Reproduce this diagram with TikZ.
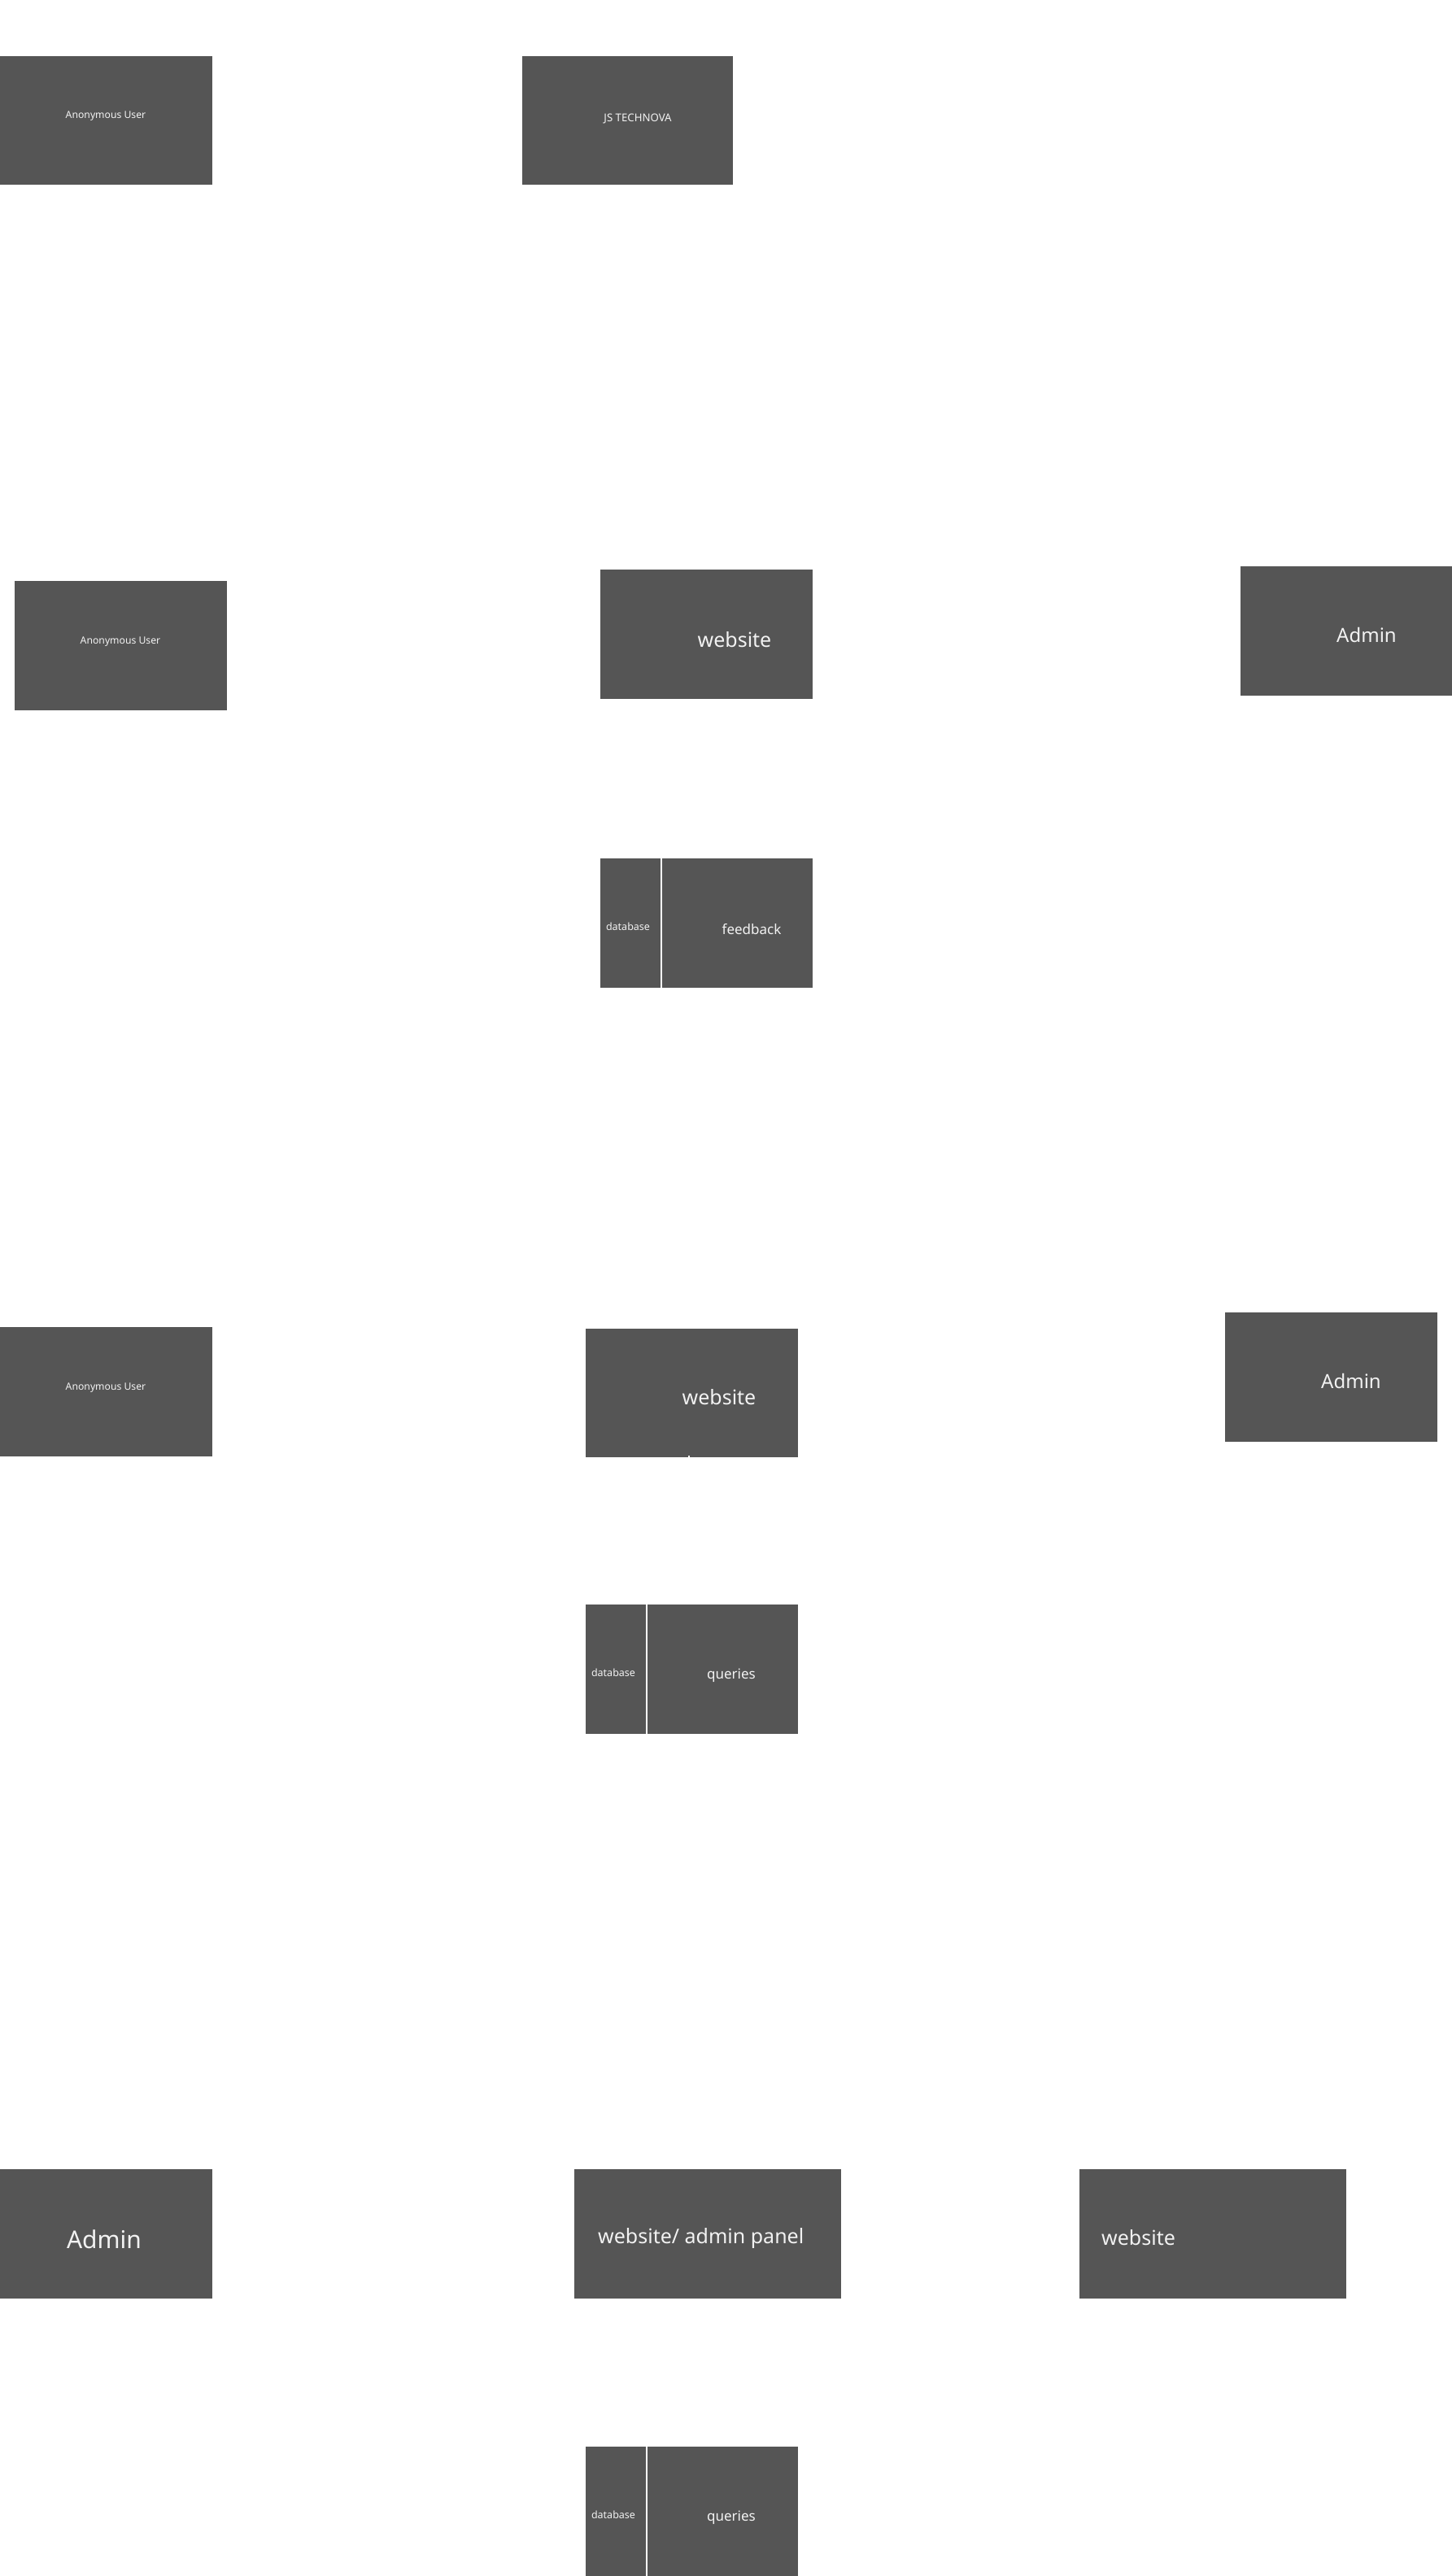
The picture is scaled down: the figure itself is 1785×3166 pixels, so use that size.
\documentclass[tikz,border=0pt]{standalone}
\usepackage{fontspec}
\setmainfont{Noto Sans}
\definecolor{boxgray}{HTML}{555555}
\definecolor{txt}{HTML}{F2F2F2}
\begin{document}
\begin{tikzpicture}[x=1pt,y=-1pt,
  lbl/.style={text=txt, inner sep=0pt, font=#1},
  lbl/.default=\normalsize]
\useasboundingbox (0,0) rectangle (1785,3166);
\newcommand{\fs}[1]{\fontsize{#1}{#1}\selectfont}
% group 1
\fill[boxgray] (0,69) rectangle (261,227);
\node[lbl={\fs{12.2}}] (anon1) at (130,143) {Anonymous User};
\fill[boxgray] (642,69) rectangle (901,227);
\node[lbl={\fs{13.2}}] (js) at (784,146) {JS TECHNOVA};
% group 2
\fill[boxgray] (18,714) rectangle (279,873);
\node[lbl={\fs{12.2}}] (anon2) at (148,789) {Anonymous User};
\fill[boxgray] (738,700) rectangle (999,859);
\node[lbl={\fs{25}}] (web1) at (903,786) {website};
\fill[boxgray] (1525,696) rectangle (1785,855);
\node[lbl={\fs{24}}] (admin1) at (1680,780) {Admin};
\fill[boxgray] (738,1055) rectangle (812,1214);
\fill[boxgray] (813.5,1055) rectangle (999,1214);
\node[lbl={\fs{12.5}}] (db1) at (772,1139) {database};
\node[lbl={\fs{17}}] (fb1) at (924,1142) {feedback};
% group 3
\fill[boxgray] (0,1631) rectangle (261,1790);
\node[lbl={\fs{12.2}}] (anon3) at (130,1706) {Anonymous User};
\fill[boxgray] (720,1633) rectangle (981,1791);
\node[lbl={\fs{25}}] (web2) at (884,1717) {website};
\coordinate (stubA) at (847,1789);
\coordinate (stubB) at (847,1792);
\draw[white, line width=2pt] (stubA) -- (stubB);
\fill[boxgray] (1506,1613) rectangle (1767,1772);
\node[lbl={\fs{24}}] (admin3) at (1661,1697) {Admin};
\fill[boxgray] (720,1972) rectangle (794,2131);
\fill[boxgray] (795.5,1972) rectangle (981,2131);
\node[lbl={\fs{12.5}}] (db2) at (754,2056) {database};
\node[lbl={\fs{17}}] (q2) at (899,2059) {queries};
% group 4
\fill[boxgray] (0,2666) rectangle (261,2825);
\node[lbl={\fs{30}}] (admin4) at (128,2752) {Admin};
\fill[boxgray] (706,2666) rectangle (1034,2825);
\node[lbl={\fs{25}}, anchor=west] (wap) at (735,2751) {website/ admin panel};
\fill[boxgray] (1327,2666) rectangle (1655,2825);
\node[lbl={\fs{25}}, anchor=west] (web4) at (1354,2750) {website};
\fill[boxgray] (720,3007) rectangle (794,3166);
\fill[boxgray] (795.5,3007) rectangle (981,3166);
\node[lbl={\fs{12.5}}] (db3) at (754,3091) {database};
\node[lbl={\fs{17}}] (q3) at (899,3094) {queries};
\end{tikzpicture}
\end{document}
